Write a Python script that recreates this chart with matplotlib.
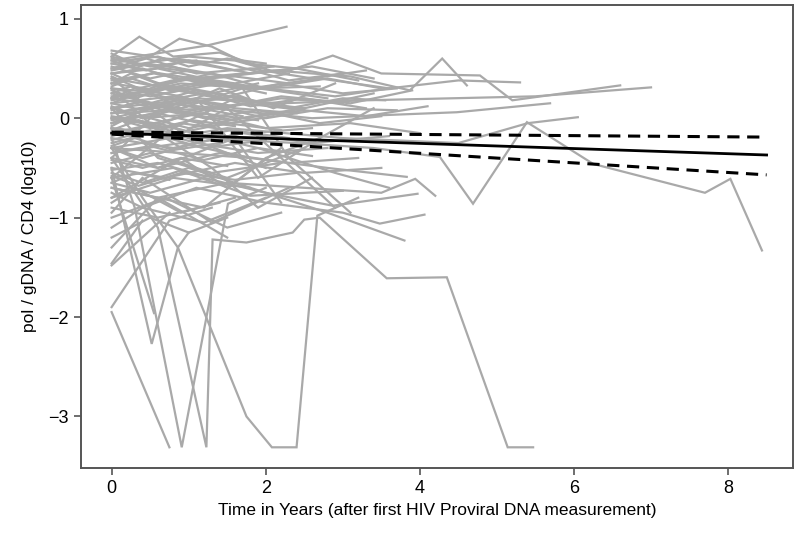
import matplotlib
matplotlib.use('Agg')
import matplotlib.pyplot as plt

plt.rcParams['font.family'] = ['Liberation Sans', 'DejaVu Sans']

# one list of follow-up times and one list of values per subject
subj_t = [
    [0, 0.36, 0.8, 1.4, 2.0],
    [0, 0.5, 0.88, 1.3, 1.75, 2.4],
    [0, 1.23, 2.27],
    [0, 0.4, 1.0, 1.6, 2.2, 2.87, 3.5, 4.78, 5.2, 6.6],
    [0, 0.7, 1.5, 2.3, 3.0],
    [0, 0.6, 1.2, 2.1, 3.1, 3.87, 4.29, 4.61],
    [0, 0.9, 1.8, 2.7, 3.6, 4.5, 5.3],
    [0, 1.1, 2.2, 3.3, 4.4, 5.5, 7.0],
    [0, 1.3, 2.6, 3.5, 4.48, 5.69],
    [0, 1.2, 2.4, 3.4, 4.26, 4.69, 5.39, 6.25, 7.7, 8.03, 8.44],
    [0, 1.5, 3.0, 4.5, 5.4, 6.05],
    [0, 0.3, 0.7, 1.2],
    [0, 0.5, 1.0],
    [0, 0.4, 0.9, 1.6, 2.3],
    [0, 0.6, 1.3, 2.0],
    [0, 0.25, 0.8, 1.5],
    [0, 0.7, 1.4, 2.1, 2.8],
    [0, 0.5, 1.1, 1.8],
    [0, 0.3, 0.9, 1.4, 2.2, 3.0],
    [0, 0.8, 1.6, 2.4],
    [0, 0.4, 1.0, 1.7],
    [0, 0.6, 1.2, 1.9, 2.7, 3.5],
    [0, 0.5, 1.0, 1.5],
    [0, 0.7, 1.5, 2.5],
    [0, 0.3, 0.9, 1.8, 2.6],
    [0, 0.6, 1.3],
    [0, 0.8, 1.7, 2.6, 3.6],
    [0, 0.5, 1.2, 2.0],
    [0, 0.4, 1.1, 1.9, 2.8],
    [0, 0.9, 1.8],
    [0, 0.6, 1.4, 2.3, 3.2],
    [0, 0.5, 1.3, 2.2],
    [0, 0.7, 1.6, 2.5, 3.5],
    [0, 0.4, 1.0, 1.8],
    [0, 0.8, 1.8, 3.0],
    [0, 0.5, 1.2, 2.0, 2.87, 3.97],
    [0, 0.6, 1.5, 2.5, 3.5, 3.94, 4.2],
    [0, 0.4, 1.1, 2.0, 3.0, 3.48, 4.06],
    [0, 0.8, 1.8, 2.8, 3.8],
    [0, 0.3, 0.9, 1.6],
    [0, 0.9, 1.8, 2.8, 3.83],
    [0, 0.6, 1.4],
    [0, 0.7, 1.5, 2.2],
    [0, 0.4, 1.2, 2.0],
    [0, 0.5, 1.0],
    [0, 0.75],
    [0, 0.4],
    [0, 0.75],
    [0, 0.75, 1.3],
    [0, 0.55],
    [0, 0.52, 0.86, 1.0, 1.5],
    [0, 0.4, 0.86, 1.75, 2.08, 2.4, 2.67, 3.2],
    [0, 0.3, 0.91, 1.51, 2.0],
    [0, 0.6, 1.23, 1.31, 1.75, 2.35, 2.5, 2.7, 3.57, 4.35, 5.14, 5.47],
    [0, 0.2, 0.6, 1.0, 1.5, 2.0],
    [0, 0.45, 1.1, 1.8, 2.6, 3.3],
    [0, 0.35, 0.9, 1.4, 2.0],
    [0, 0.55, 1.2, 2.0, 2.8, 3.5],
    [0, 0.3, 0.8, 1.3, 1.9],
    [0, 0.5, 1.0, 1.6, 2.3, 3.0, 3.55],
    [0, 0.4, 1.0, 1.7, 2.5],
    [0, 0.6, 1.3, 2.1],
    [0, 0.35, 0.85, 1.5, 2.2],
    [0, 0.5, 1.1, 1.7],
    [0, 0.45, 1.0, 1.8, 2.6, 3.4],
    [0, 0.7, 1.4, 2.2, 3.0, 3.7],
    [0, 0.25, 0.75, 1.25],
    [0, 0.5, 1.4, 2.5, 3.4],
    [0, 0.4, 1.2, 2.0, 3.1, 4.0],
    [0, 1.0, 2.0],
    [0, 0.8, 1.6, 2.4],
    [0, 0.6, 1.5, 2.5],
    [0, 0.5, 1.4, 2.1, 2.9],
    [0, 0.9, 1.5, 2.2],
    [0, 0.7, 1.3, 1.9, 2.6],
    [0, 1.2, 2.0, 2.7],
    [0, 0.4, 1.3, 2.3],
    [0, 0.6, 1.5],
    [0, 0.8, 1.9, 2.9, 3.6],
    [0, 0.9, 1.7, 2.3, 3.1],
    [0, 0.8, 1.5, 2.9],
    [0, 0.6, 1.6, 2.2],
    [0, 1.1, 1.9, 2.7, 3.4],
    [0, 0.3, 0.65, 1.1, 1.6, 2.1],
    [0, 0.45, 0.9, 1.5, 2.4, 3.2],
    [0, 0.2, 0.55, 1.05, 1.7],
    [0, 0.35, 0.75, 1.25, 1.9, 2.7],
    [0, 0.5, 1.0, 1.45],
    [0, 0.25, 0.7, 1.2, 1.8, 2.5, 3.3],
    [0, 0.4, 0.95, 1.6],
    [0, 0.3, 0.85, 1.35, 2.0, 2.8, 3.7],
    [0, 0.55, 1.15, 1.9],
    [0, 0.2, 0.6, 1.05, 1.6],
    [0, 0.45, 1.0, 1.55, 2.3],
    [0, 0.3, 0.8, 1.4],
    [0, 0.5, 1.2, 1.9, 2.6],
    [0, 0.4, 0.9, 1.5],
    [0, 0.6, 1.2],
    [0, 0.35, 0.9, 1.6, 2.4],
    [0, 0.5, 1.1],
    [0, 0.7, 1.4, 2.2, 3.1, 3.9],
    [0, 0.6, 1.3, 2.0, 2.9, 3.6],
    [0, 0.4, 1.0, 1.7, 2.5, 3.3, 4.1],
    [0, 0.3, 0.75],
    [0, 0.5, 1.0, 1.6, 2.3],
]
subj_v = [
    [0.62, 0.82, 0.62, 0.66, 0.5],
    [0.55, 0.62, 0.8, 0.72, 0.55, 0.5],
    [0.58, 0.73, 0.92],
    [0.5, 0.55, 0.62, 0.58, 0.45, 0.63, 0.45, 0.43, 0.18, 0.33],
    [0.68, 0.6, 0.55, 0.38, 0.45],
    [0.45, 0.5, 0.4, 0.48, 0.42, 0.28, 0.6, 0.33],
    [0.2, 0.35, 0.3, 0.4, 0.3, 0.38, 0.36],
    [0.1, 0.2, 0.15, 0.18, 0.2, 0.22, 0.31],
    [0.05, 0.1, 0.0, 0.03, 0.06, 0.15],
    [-0.1, -0.2, -0.25, -0.3, -0.39, -0.86, -0.04, -0.46, -0.75, -0.61, -1.33],
    [-0.3, -0.1, -0.2, -0.25, -0.05, 0.01],
    [0.6, 0.55, 0.5, 0.45],
    [0.52, 0.4, 0.48],
    [0.45, 0.5, 0.38, 0.42, 0.35],
    [0.4, 0.32, 0.45, 0.3],
    [0.35, 0.45, 0.3, 0.2],
    [0.3, 0.25, 0.35, 0.28, 0.2],
    [0.25, 0.15, 0.28, 0.18],
    [0.2, 0.3, 0.22, 0.1, 0.2, 0.15],
    [0.15, 0.22, 0.1, 0.05],
    [0.1, 0.0, 0.12, 0.02],
    [0.05, 0.12, 0.0, 0.08, -0.05, 0.02],
    [0.0, -0.1, 0.05, -0.05],
    [-0.05, 0.08, -0.02, 0.1],
    [-0.1, -0.2, -0.05, -0.15, -0.1],
    [-0.15, -0.05, -0.2],
    [-0.2, -0.3, -0.15, -0.25, -0.18],
    [-0.25, -0.15, -0.3, -0.22],
    [-0.3, -0.4, -0.25, -0.35, -0.3],
    [-0.35, -0.25, -0.4],
    [-0.4, -0.5, -0.35, -0.45, -0.4],
    [-0.45, -0.35, -0.55, -0.45],
    [-0.5, -0.6, -0.45, -0.55, -0.5],
    [-0.55, -0.65, -0.5, -0.7],
    [-0.6, -0.5, -0.78, -0.73],
    [-0.65, -0.75, -0.6, -0.75, -0.88, -0.76],
    [-0.7, -0.8, -0.65, -0.7, -0.75, -0.61, -0.78],
    [-0.75, -0.9, -0.7, -0.85, -0.95, -1.06, -0.97],
    [-0.8, -0.6, -0.7, -0.95, -1.23],
    [-0.85, -0.7, -0.95, -0.8],
    [-0.3, -0.35, -0.4, -0.5, -0.59],
    [-0.9, -1.0, -0.85],
    [-1.0, -0.8, -1.1, -0.95],
    [-1.1, -0.9, -1.05, -0.8],
    [-1.2, -1.0, -1.15],
    [-1.48, -0.95],
    [-1.46, -1.03],
    [-1.95, -3.31],
    [-1.9, -1.03, -0.9],
    [-0.6, -1.96],
    [-0.5, -2.27, -1.3, -1.15, -1.0],
    [-0.3, -0.8, -1.3, -3.0, -3.31, -3.31, -0.98, -0.8],
    [-0.2, -0.9, -3.31, -0.86, -0.7],
    [-0.4, -1.1, -3.31, -1.22, -1.25, -1.15, -1.02, -1.0, -1.61, -1.6, -3.31, -3.31],
    [0.65, 0.58, 0.62, 0.52, 0.6, 0.55],
    [0.5, 0.6, 0.45, 0.5, 0.4, 0.48],
    [0.42, 0.3, 0.4, 0.35, 0.25],
    [0.38, 0.45, 0.35, 0.3, 0.4, 0.3],
    [0.28, 0.2, 0.32, 0.25, 0.35],
    [0.18, 0.25, 0.15, 0.22, 0.1, 0.2, 0.18],
    [0.08, 0.18, 0.05, 0.15, 0.08],
    [-0.02, 0.05, -0.08, 0.02],
    [-0.12, -0.02, -0.15, -0.05, -0.12],
    [-0.22, -0.12, -0.25, -0.15],
    [0.55, 0.48, 0.58, 0.45, 0.52, 0.4],
    [0.22, 0.3, 0.2, 0.35, 0.25, 0.3],
    [0.32, 0.4, 0.28, 0.35],
    [-0.05, 0.1, 0.2, 0.1, 0.25],
    [0.12, 0.0, 0.05, -0.1, -0.05, -0.15],
    [0.4, -0.2, -0.5],
    [-0.6, -0.1, 0.2, 0.1],
    [0.1, -0.4, -0.6, -0.3],
    [-0.4, 0.0, 0.3, 0.1, 0.35],
    [-0.8, -0.4, -0.7, -0.3],
    [0.3, -0.2, -0.5, -0.9, -0.6],
    [-0.7, -0.9, -0.4, -0.2],
    [-0.95, -0.6, -1.05, -0.7],
    [-1.3, -0.8, -1.2],
    [0.0, -0.1, -0.3, -0.55, -0.7],
    [0.2, 0.1, 0.3, -0.4, -0.95],
    [-0.1, -0.2, 0.1, -0.9],
    [-0.3, -0.5, -0.2, -0.85],
    [0.0, 0.2, -0.6, -0.2, 0.1],
    [0.58, 0.5, 0.6, 0.55, 0.48, 0.52],
    [0.48, 0.55, 0.5, 0.42, 0.5, 0.38],
    [0.45, 0.38, 0.46, 0.4, 0.45],
    [0.35, 0.42, 0.3, 0.38, 0.3, 0.32],
    [0.3, 0.22, 0.3, 0.24],
    [0.25, 0.32, 0.18, 0.25, 0.12, 0.2, 0.1],
    [0.15, 0.08, 0.2, 0.12],
    [0.1, 0.15, 0.05, 0.12, 0.0, 0.1, 0.08],
    [0.02, -0.05, 0.05, -0.02],
    [-0.08, 0.0, -0.1, -0.02, -0.08],
    [-0.18, -0.08, -0.2, -0.12, -0.2],
    [-0.28, -0.2, -0.32, -0.25],
    [-0.35, -0.28, -0.42, -0.3, -0.38],
    [-0.42, -0.5, -0.4, -0.48],
    [-0.52, -0.45, -0.58],
    [-0.58, -0.68, -0.55, -0.62, -0.55],
    [0.62, 0.52, 0.58],
    [0.05, 0.15, 0.1, 0.22, 0.15, 0.28],
    [0.35, 0.28, 0.38, 0.3, 0.22, 0.3],
    [-0.05, 0.02, -0.1, 0.0, 0.08, 0.02, 0.12],
    [-0.65, -0.55, -0.62],
    [0.15, 0.3, 0.42, 0.35, 0.45],
]

# population fit and its confidence limits
fit_t = [0, 8.5]
fit_mid = [-0.15, -0.37]
fit_hi = [-0.14, -0.19]
fit_lo = [-0.16, -0.57]

fig = plt.figure(figsize=(8, 5.4), dpi=100)
ax = fig.add_axes([0.101, 0.133, 0.89, 0.858])

for t, v in zip(subj_t, subj_v):
    ax.plot(t, v, color='#a9a9a9', lw=1.6, solid_joinstyle='miter')

ax.plot(fit_t, fit_mid, color='black', lw=2.0)
ax.plot(fit_t, fit_hi, color='black', lw=2.2, ls=(0, (4, 2.5)))
ax.plot(fit_t, fit_lo, color='black', lw=2.2, ls=(0, (4, 2.5)))

ax.set_xlim(-0.4, 8.84)
ax.set_ylim(-3.52, 1.14)
ax.set_xticks([0, 2, 4, 6, 8])
ax.set_yticks([1, 0, -1, -2, -3])
for s in ax.spines.values():
    s.set_color('#555555')
    s.set_linewidth(1.4)
ax.tick_params(direction='out', length=5, width=1.2, color='#555555', labelsize=13)
ax.set_xlabel('Time in Years (after first HIV Proviral DNA measurement)', fontsize=12.5, labelpad=4)
ax.set_ylabel('pol / gDNA / CD4 (log10)', fontsize=12.5, labelpad=8)

fig.savefig('out.png', dpi=100)
